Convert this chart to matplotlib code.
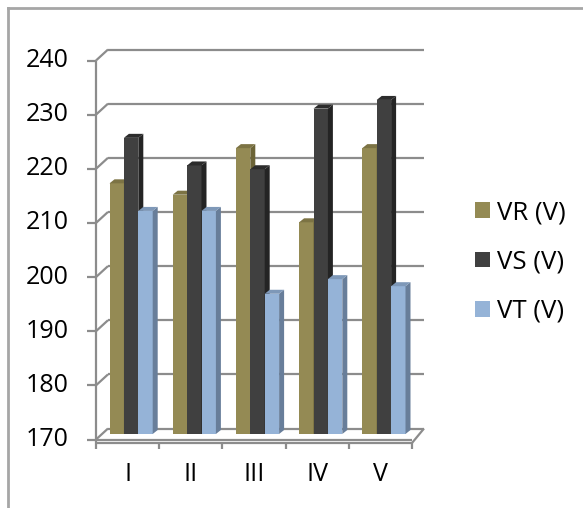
import matplotlib
matplotlib.use("Agg")
import matplotlib.pyplot as plt
from matplotlib.patches import Polygon
from matplotlib.lines import Line2D
import numpy as np

plt.rcParams['font.family'] = ['Open Sans', 'DejaVu Sans']

categories = ["I", "II", "III", "IV", "V"]
series_names = ["VR (V)", "VS (V)", "VT (V)"]
vr = [216.3, 214.2, 222.8, 209.1, 222.8]
vs = [224.7, 219.6, 218.9, 230.1, 231.7]
vt = [211.2, 211.2, 195.9, 198.6, 197.3]
y_ticks = [170, 180, 190, 200, 210, 220, 230, 240]

front_colors = ["#948A54", "#404040", "#95B3D7"]
side_colors = ["#6C6437", "#242424", "#687E9A"]
top_colors = ["#7C7344", "#2C2C2C", "#7E98B8"]
grid_color = "#8C8C8C"

W, H = 583, 508
fig = plt.figure(figsize=(W / 100, H / 100), dpi=100)
ax_l, ax_r, ax_b, ax_t = 102, 418, 434, 55   # plot plane, pixels
ax = fig.add_axes([ax_l / W, 1 - ax_b / H, (ax_r - ax_l) / W, (ax_b - ax_t) / H])
ymin, ymax = y_ticks[0], y_ticks[-1]
n = len(categories)
ax.set_xlim(-0.5, n - 0.5)
ax.set_ylim(ymin, ymax)
ax.axis("off")

# pixel -> data unit conversions for the oblique depth offsets
ux = n / (ax_r - ax_l)
uy = (ymax - ymin) / (ax_b - ax_t)
wall_dx, wall_dy = 6 * ux, 5.5 * uy      # half depth of the plot box
bar_dx, bar_dy = 5 * ux, 4 * uy          # depth of a bar
slab = 3.5 * uy                          # floor thickness

x_lo, x_hi = -0.5, n - 0.5
kw = dict(color=grid_color, lw=1.6, clip_on=False, zorder=1, solid_capstyle="butt")
label_size = 18

# back wall gridlines, side-wall diagonals and front axis ticks
for v in y_ticks:
    ax.add_line(Line2D([x_lo + wall_dx, x_hi + wall_dx], [v + wall_dy, v + wall_dy], **kw))
    ax.add_line(Line2D([x_lo - wall_dx, x_lo + wall_dx], [v - wall_dy, v + wall_dy], **kw))
    ax.add_line(Line2D([x_lo - wall_dx - 9 * ux, x_lo - wall_dx], [v - wall_dy, v - wall_dy], **kw))
    ax.text(x_lo - wall_dx - 27 * ux, v - wall_dy, str(v), ha="right", va="center",
            fontsize=label_size, color="black")

# front vertical axis
ax.add_line(Line2D([x_lo - wall_dx, x_lo - wall_dx], [ymax - wall_dy, ymin - wall_dy - slab], **kw))
# floor slab
ax.add_line(Line2D([x_lo - wall_dx, x_hi - wall_dx], [ymin - wall_dy, ymin - wall_dy], **kw))
ax.add_line(Line2D([x_lo - wall_dx, x_hi - wall_dx], [ymin - wall_dy - slab, ymin - wall_dy - slab], **kw))
ax.add_line(Line2D([x_hi - wall_dx, x_hi + wall_dx], [ymin - wall_dy - slab, ymin + wall_dy], **kw))
# category boundary ticks under the floor
for b in np.arange(n + 1) - 0.5:
    ax.add_line(Line2D([b - wall_dx, b - wall_dx], [ymin - wall_dy - slab, ymin - wall_dy - slab - 6 * uy], **kw))
for i, c in enumerate(categories):
    ax.text(i - wall_dx, ymin - wall_dy - 35 * uy, c, ha="center", va="center", fontsize=label_size)

# bars with side and top faces
bw = 14.4 * ux
shift = -bar_dx / 2
data = [vr, vs, vt]
handles = []
for i in range(n):
    for j, vals in enumerate(data):
        x = i + (j - 1) * bw + shift
        v = vals[i]
        b = ax.bar(x, v - ymin, bottom=ymin, width=bw, color=front_colors[j],
                   linewidth=0, zorder=3 + i * 3 + j)
        if i == 0:
            handles.append(b)
        xl, xr = x - bw / 2, x + bw / 2
        side = Polygon([(xr, ymin), (xr, v), (xr + bar_dx, v + bar_dy), (xr + bar_dx, ymin + bar_dy)],
                       closed=True, facecolor=side_colors[j], edgecolor="none",
                       zorder=3 + i * 3 + j, clip_on=False)
        top = Polygon([(xl, v), (xr, v), (xr + bar_dx, v + bar_dy), (xl + bar_dx, v + bar_dy)],
                      closed=True, facecolor=top_colors[j], edgecolor="none",
                      zorder=3 + i * 3 + j, clip_on=False)
        ax.add_patch(side)
        ax.add_patch(top)

legend_size = 18.5
lpx = legend_size * 100 / 72
fig.legend(handles, series_names, loc="center left",
           bbox_to_anchor=(475 / W, 1 - 262 / H), frameon=False, fontsize=legend_size,
           handlelength=15 / lpx, handleheight=14 / lpx, handletextpad=0.28,
           labelspacing=0.95, borderpad=0, borderaxespad=0)

# chart area border
fig.add_artist(Line2D([8 / W, 1.0], [1 - 8 / H, 1 - 8 / H], transform=fig.transFigure,
                      color="#A6A6A6", lw=2))
fig.add_artist(Line2D([8 / W, 8 / W], [1 - 8 / H, 0.0], transform=fig.transFigure,
                      color="#A6A6A6", lw=2))

fig.savefig("out.png", dpi=100, facecolor="white")
